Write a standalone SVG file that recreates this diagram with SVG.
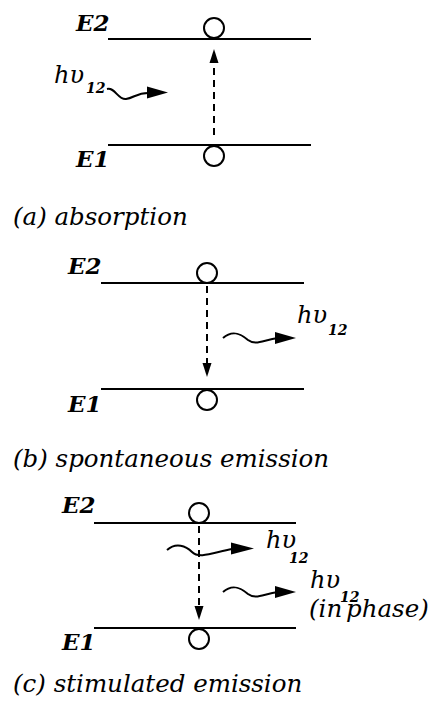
<svg xmlns="http://www.w3.org/2000/svg" width="432" height="710" viewBox="0 0 432 710">
<defs>
<style>
.lvl{stroke:#000;stroke-width:2;fill:none}
.dash{stroke:#000;stroke-width:2;stroke-dasharray:7,5;fill:none}
.wave{stroke:#000;stroke-width:2;fill:none}
.atom{stroke:#000;stroke-width:2;fill:#fff}
.head{fill:#000}
.E{font-family:"DejaVu Serif",serif;font-weight:bold;font-style:italic;font-size:23px;fill:#000}
.cap{font-family:"DejaVu Serif",serif;font-style:italic;font-size:24.5px;fill:#000}
.hv{font-family:"DejaVu Serif",serif;font-style:italic;font-size:24px;fill:#000}
.sub{font-family:"DejaVu Serif",serif;font-style:italic;font-weight:bold;font-size:14px;fill:#000}
</style>
</defs>
<rect width="432" height="710" fill="#fff"/>

<g id="panel-a">
  <g id="a-E2"><line class="lvl" x1="108" y1="39" x2="311" y2="39"/><text class="E" x="76" y="31">E2</text></g>
  <g id="a-E1"><line class="lvl" x1="108" y1="145" x2="311" y2="145"/><text class="E" x="76" y="167">E1</text></g>
  <g id="a-atom-top"><circle class="atom" cx="214" cy="28" r="10"/></g>
  <g id="a-atom-bot"><circle class="atom" cx="214" cy="156" r="10"/></g>
  <g id="a-photon">
    <text class="hv" x="54" y="83">hυ</text><text class="sub" x="86" y="93">12</text>
  </g>
  <text class="cap" x="13" y="225">(a) absorption</text>
</g>

<g id="panel-b">
  <g id="b-E2"><line class="lvl" x1="101" y1="283" x2="304" y2="283"/><text class="E" x="68" y="274">E2</text></g>
  <g id="b-E1"><line class="lvl" x1="101" y1="389" x2="304" y2="389"/><text class="E" x="68" y="412">E1</text></g>
  <g id="b-atom-top"><circle class="atom" cx="207" cy="273" r="10"/></g>
  <g id="b-atom-bot"><circle class="atom" cx="207" cy="400" r="10"/></g>
  <g id="b-photon"><text class="hv" x="297" y="323">hυ</text><text class="sub" x="328" y="335">12</text></g>
  <text class="cap" x="13" y="467">(b) spontaneous emission</text>
</g>

<g id="panel-c">
  <g id="c-E2"><line class="lvl" x1="94" y1="523" x2="296" y2="523"/><text class="E" x="62" y="513">E2</text></g>
  <g id="c-E1"><line class="lvl" x1="94" y1="628" x2="296" y2="628"/><text class="E" x="62" y="650">E1</text></g>
  <g id="c-atom-top"><circle class="atom" cx="199" cy="513" r="10"/></g>
  <g id="c-atom-bot"><circle class="atom" cx="199" cy="639" r="10"/></g>
  <g id="c-photon1"><text class="hv" x="266" y="548">hυ</text><text class="sub" x="289" y="563">12</text></g>
  <g id="c-photon2"><text class="hv" x="310" y="588">hυ</text><text class="sub" x="340" y="602">12</text>
    <text class="cap" y="617"><tspan x="309">(in</tspan><tspan x="346">phase)</tspan></text></g>
  <text class="cap" x="13" y="692">(c) stimulated emission</text>
</g>

<g id="connectors">
  <line class="dash" x1="214" y1="135" x2="214" y2="60"/>
  <polygon class="head" points="214,49 209.5,63 218.5,63"/>
  <path class="wave" d="M107,89 C115,87 118,100 126,99 C134,98 138,92 150,93"/>
  <polygon class="head" points="147,86.5 168,92.5 147,98.5"/>

  <line class="dash" x1="207" y1="286" x2="207" y2="367"/>
  <polygon class="head" points="207,377 202.5,363 211.5,363"/>
  <path class="wave" d="M223,338 C232,330 240,333 248,340 C256,346 263,340 278,338"/>
  <polygon class="head" points="275,332 296,338 275,344"/>

  <line class="dash" x1="199" y1="526" x2="199" y2="609"/>
  <polygon class="head" points="199,620 194.5,606 203.5,606"/>
  <path class="wave" d="M167,550 C176,542 186,546 192,552 C199,559 212,553 232,549"/>
  <polygon class="head" points="231,542.5 254,548.5 231,554.5"/>
  <path class="wave" d="M223,592 C232,584 240,587 248,594 C256,600 263,594 278,592"/>
  <polygon class="head" points="275,586 296,592 275,598"/>
</g>
</svg>
